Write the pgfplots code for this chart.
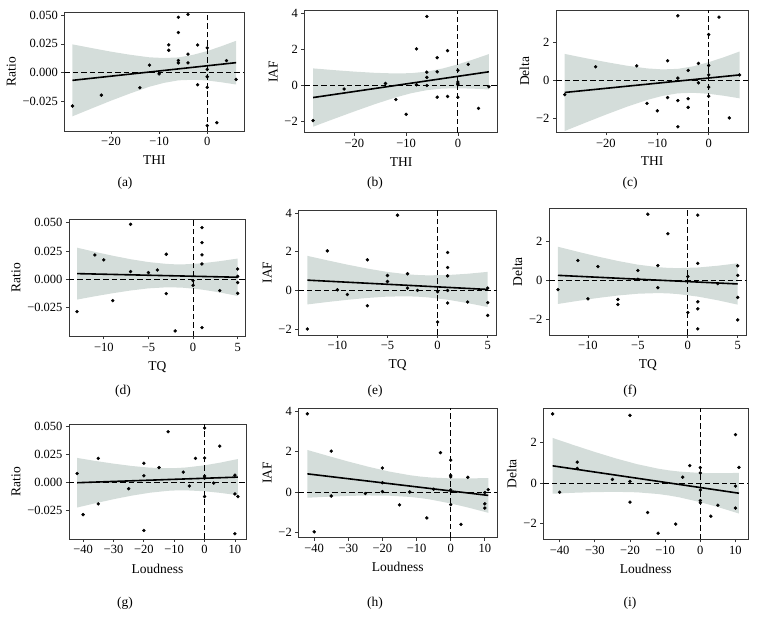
\documentclass[border=0pt]{standalone}
\usepackage{fontspec}
\setmainfont{Liberation Serif}
\usepackage{pgfplots}
\pgfplotsset{compat=1.18}
\definecolor{bandcol}{RGB}{212,221,218}
\definecolor{framecol}{RGB}{55,55,55}
\pgfplotsset{
  panel/.style={
    scale only axis, anchor=south west,
    axis line style={framecol, line width=0.9pt},
    tick align=outside, major tick length=3pt,
    tick style={framecol, line width=0.7pt},
    xtick pos=lower, ytick pos=left,
    scaled y ticks=false, scaled x ticks=false,
    ticklabel style={font=\fontsize{12.5}{13}\selectfont},
    label style={font=\fontsize{13.5}{14}\selectfont},
    xlabel style={yshift=-3pt},
    clip=true,
  },
  band/.style={fill=bandcol, draw=none},
  fit/.style={black, line width=1.6pt},
  zero/.style={black, line width=0.8pt, dash pattern=on 5.5pt off 3pt},
  pts/.style={only marks, mark=*, mark size=1.5pt, black},
  ratioy/.style={ytick={-0.025,0,0.025,0.05}, yticklabels={−0.025,0.000,0.025,0.050}, ylabel={Ratio}},
  iafy/.style={ytick={-2,0,2,4}, yticklabels={−2,0,2,4}, ylabel={IAF}},
  deltay/.style={ytick={-2,0,2}, yticklabels={−2,0,2}, ylabel={Delta}},
  thix/.style={xmin=-29.7, xmax=7.7, xtick={-20,-10,0}, xticklabels={−20,−10,0}, xlabel={THI}},
  tqx/.style={xmin=-13.9, xmax=5.9, xtick={-10,-5,0,5}, xticklabels={−10,−5,0,5}, xlabel={TQ}},
  loudx/.style={xmin=-44.65, xmax=13.65, xtick={-40,-30,-20,-10,0,10}, xticklabels={−40,−30,−20,−10,0,10}, xlabel={Loudness}},
}
\begin{document}
\begin{tikzpicture}
\path[use as bounding box] (0pt,0pt) rectangle (758pt,623pt);

% (a) Ratio vs THI
\begin{axis}[panel, thix, ratioy, at={(64.3pt,492pt)}, width=180pt, height=118.3pt, ymin=-0.0503, ymax=0.052]
\addplot[band] coordinates {(-28,0.0246)(-24,0.0214)(-20,0.0183)(-16,0.0156)(-12,0.0134)(-9,0.0128)(-6,0.0133)(-3,0.0155)(0,0.0188)(3,0.0231)(6,0.0277)
 (6,-0.0101)(3,-0.0082)(0,-0.0066)(-3,-0.0060)(-6,-0.0065)(-9,-0.0087)(-12,-0.0120)(-16,-0.0178)(-20,-0.0241)(-24,-0.0308)(-28,-0.0376)};
\addplot[zero] coordinates {(-29.7,0)(7.7,0)};
\addplot[zero] coordinates {(0,-0.0503)(0,0.052)};
\addplot[fit] coordinates {(-28,-0.0065)(6,0.0088)};
\addplot[pts] coordinates {(-28,-0.0287)(-22,-0.0193)(-14,-0.0129)(-12,0.0066)(-10,-0.0009)(-8,0.0241)(-8,0.0195)(-6,0.0480)(-6,0.0348)(-6,0.0106)(-6,0.0086)(-4,0.0506)(-4,0.0161)(-4,0.0086)(-2,0.0241)(-2,-0.0103)(0,0.0216)(0,0.0030)(0,-0.0034)(0,-0.0126)(0,-0.0457)(2,-0.0431)(4,0.0106)(6,-0.0057)};
\end{axis}

% (b) IAF vs THI
\begin{axis}[panel, thix, iafy, at={(304.3pt,490.3pt)}, width=193.4pt, height=122pt, ymin=-2.62, ymax=4.15]
\addplot[band] coordinates {(-28,0.948)(-24,0.854)(-20,0.769)(-16,0.701)(-12,0.666)(-9,0.685)(-6,0.769)(-3,0.938)(0,1.171)(3,1.445)(6,1.742)
 (6,-0.222)(3,-0.177)(0,-0.155)(-3,-0.174)(-6,-0.259)(-9,-0.427)(-12,-0.660)(-16,-1.031)(-20,-1.437)(-24,-1.858)(-28,-2.288)};
\addplot[zero] coordinates {(-29.7,0)(7.7,0)};
\addplot[zero] coordinates {(0,-2.62)(0,4.15)};
\addplot[fit] coordinates {(-28,-0.67)(6,0.76)};
\addplot[pts] coordinates {(-28,-1.95)(-22,-0.20)(-14,0.11)(-12,-0.78)(-10,-1.60)(-8,2.03)(-8,0.04)(-6,3.83)(-6,0.74)(-6,0.45)(-6,0.0)(-4,1.54)(-4,0.76)(-4,-0.65)(-2,1.93)(-2,-0.61)(0,0.84)(0,0.19)(0,0.04)(0,0.10)(0,-0.65)(2,1.17)(4,-1.27)(6,-0.07)};
\end{axis}

% (c) Delta vs THI
\begin{axis}[panel, thix, deltay, at={(556pt,490.7pt)}, width=192.3pt, height=122.3pt, ymin=-2.76, ymax=3.72]
\addplot[band] coordinates {(-28,1.392)(-24,1.171)(-20,0.962)(-16,0.772)(-12,0.625)(-9,0.571)(-6,0.601)(-3,0.735)(0,0.953)(3,1.222)(6,1.520)
 (6,-0.960)(3,-0.826)(0,-0.721)(-3,-0.667)(-6,-0.697)(-9,-0.831)(-12,-1.049)(-16,-1.416)(-20,-1.824)(-24,-2.253)(-28,-2.692)};
\addplot[zero] coordinates {(-29.7,0)(7.7,0)};
\addplot[zero] coordinates {(0,-2.76)(0,3.72)};
\addplot[fit] coordinates {(-28,-0.65)(6,0.28)};
\addplot[pts] coordinates {(-28,-0.76)(-22,0.71)(-14,0.76)(-12,-1.23)(-10,-1.62)(-8,1.03)(-8,-0.92)(-6,3.41)(-6,0.11)(-6,-1.08)(-6,-2.47)(-4,0.52)(-4,-0.98)(-4,-1.44)(-2,0.89)(-2,-0.14)(0,2.42)(0,0.78)(0,0.28)(0,-0.37)(0,-0.85)(2,3.34)(4,-2.0)(6,0.28)};
\end{axis}

% (d) Ratio vs TQ
\begin{axis}[panel, tqx, ratioy, at={(69pt,286.7pt)}, width=176.7pt, height=117.3pt, ymin=-0.0503, ymax=0.0532]
\addplot[band] coordinates {(-13,0.0279)(-11,0.0242)(-9,0.0208)(-7,0.0177)(-5,0.0152)(-3,0.0136)(-2,0.0132)(-1,0.0132)(1,0.0141)(3,0.0160)(5,0.0183)
 (5,-0.0147)(3,-0.0116)(1,-0.0091)(-1,-0.0075)(-2,-0.0072)(-3,-0.0071)(-5,-0.0080)(-7,-0.0099)(-9,-0.0123)(-11,-0.0150)(-13,-0.0179)};
\addplot[zero] coordinates {(-13.9,0)(5.9,0)};
\addplot[zero] coordinates {(0,-0.0503)(0,0.0532)};
\addplot[fit] coordinates {(-13,0.0050)(5,0.0018)};
\addplot[pts] coordinates {(-13,-0.0285)(-11,0.0215)(-10,0.0171)(-9,-0.0188)(-7,0.0485)(-7,0.0068)(-5,0.0059)(-4,0.0082)(-3,0.0221)(-3,-0.0126)(-2,-0.0456)(0,-0.0012)(0,-0.0053)(1,0.0456)(1,0.0324)(1,0.0215)(1,0.0135)(1,-0.0426)(3,-0.0100)(5,0.0091)(5,0.0026)(5,-0.0029)(5,-0.0124)};
\end{axis}

% (e) IAF vs TQ
\begin{axis}[panel, tqx, iafy, at={(298.3pt,288pt)}, width=198.4pt, height=125pt, ymin=-2.3, ymax=4.15]
\addplot[band] coordinates {(-13,1.784)(-11,1.552)(-9,1.330)(-7,1.127)(-5,0.953)(-3,0.831)(-2,0.796)(-1,0.778)(1,0.793)(3,0.860)(5,0.957)
 (5,-0.857)(3,-0.654)(1,-0.479)(-1,-0.358)(-2,-0.322)(-3,-0.305)(-5,-0.319)(-7,-0.387)(-9,-0.484)(-11,-0.598)(-13,-0.724)};
\addplot[zero] coordinates {(-13.9,0)(5.9,0)};
\addplot[zero] coordinates {(0,-2.3)(0,4.15)};
\addplot[fit] coordinates {(-13,0.53)(5,0.05)};
\addplot[pts] coordinates {(-13,-1.99)(-11,2.04)(-10,0.03)(-9,-0.21)(-7,1.58)(-7,-0.79)(-5,0.77)(-5,0.46)(-4,3.88)(-3,0.86)(-3,0.12)(-2,0.0)(0,-0.07)(0,-1.63)(1,1.96)(1,1.18)(1,0.75)(1,0.0)(1,-0.65)(3,-0.60)(5,0.12)(5,-0.63)(5,-1.29)};
\end{axis}

% (f) Delta vs TQ
\begin{axis}[panel, tqx, deltay, at={(549pt,288pt)}, width=197.7pt, height=126.7pt, ymin=-2.78, ymax=3.70]
\addplot[band] coordinates {(-13,1.733)(-11,1.475)(-9,1.230)(-7,1.006)(-5,0.817)(-3,0.689)(-2,0.653)(-1,0.640)(1,0.671)(3,0.762)(5,0.888)
 (5,-1.228)(3,-1.004)(1,-0.815)(-1,-0.686)(-2,-0.651)(-3,-0.637)(-5,-0.669)(-7,-0.760)(-9,-0.886)(-11,-1.033)(-13,-1.193)};
\addplot[zero] coordinates {(-13.9,0)(5.9,0)};
\addplot[zero] coordinates {(0,-2.78)(0,3.70)};
\addplot[fit] coordinates {(-13,0.27)(5,-0.17)};
\addplot[pts] coordinates {(-13,-0.46)(-11,1.03)(-10,-0.93)(-9,0.72)(-7,-0.96)(-7,-1.22)(-5,0.52)(-5,0.07)(-4,3.40)(-3,0.77)(-3,-0.36)(-2,2.40)(0,0.21)(0,-1.63)(1,3.35)(1,0.88)(1,-1.08)(1,-1.44)(1,-2.47)(3,-0.15)(5,0.76)(5,0.27)(5,-0.86)(5,-2.01)};
\end{axis}

% (g) Ratio vs Loudness
\begin{axis}[panel, loudx, ratioy, at={(69pt,84pt)}, width=177pt, height=114.7pt, ymin=-0.0501, ymax=0.052]
\addplot[band] coordinates {(-42,0.0221)(-36,0.0194)(-30,0.0170)(-24,0.0149)(-18,0.0134)(-12,0.0129)(-9,0.0131)(-6,0.0136)(0,0.0155)(5,0.0178)(11,0.0211)
 (11,-0.0111)(5,-0.0090)(0,-0.0076)(-6,-0.0068)(-9,-0.0068)(-12,-0.0072)(-18,-0.0089)(-24,-0.0115)(-30,-0.0147)(-36,-0.0183)(-42,-0.0221)};
\addplot[zero] coordinates {(-44.65,0)(13.65,0)};
\addplot[zero] coordinates {(0,-0.0501)(0,0.052)};
\addplot[fit] coordinates {(-42,0.0)(11,0.0050)};
\addplot[pts] coordinates {(-42,0.0082)(-40,-0.0284)(-35,0.0217)(-35,-0.0188)(-25,-0.0053)(-20,0.0173)(-20,0.0062)(-20,-0.0425)(-15,0.0135)(-12,0.0454)(-7,0.0094)(-5,-0.0029)(-3,0.0217)(0,0.0487)(0,0.0220)(0,0.0059)(0,0.0041)(0,-0.0123)(3,-0.0003)(5,0.0325)(10,0.0067)(10,-0.0100)(10,-0.0454)(11,-0.0123)};
\end{axis}

% (h) IAF vs Loudness
\begin{axis}[panel, loudx, iafy, at={(298.3pt,85.3pt)}, width=199pt, height=129.7pt, ymin=-2.27, ymax=4.17]
\addplot[band] coordinates {(-42,2.086)(-36,1.794)(-30,1.511)(-24,1.248)(-18,1.014)(-12,0.833)(-9,0.768)(-6,0.720)(0,0.674)(5,0.670)(11,0.694)
 (11,-1.034)(5,-0.768)(0,-0.570)(-6,-0.374)(-9,-0.300)(-12,-0.245)(-18,-0.184)(-24,-0.174)(-30,-0.195)(-36,-0.236)(-42,-0.286)};
\addplot[zero] coordinates {(-44.65,0)(13.65,0)};
\addplot[zero] coordinates {(0,-2.27)(0,4.17)};
\addplot[fit] coordinates {(-42,0.90)(11,-0.17)};
\addplot[pts] coordinates {(-42,3.88)(-40,-1.98)(-35,2.03)(-35,-0.20)(-25,-0.08)(-20,1.19)(-20,0.46)(-20,0.02)(-15,-0.64)(-12,0.0)(-7,-1.29)(-5,0.14)(-3,1.95)(0,1.58)(0,0.83)(0,0.75)(0,0.10)(0,-0.63)(3,-1.61)(5,0.73)(10,-0.03)(10,-0.59)(10,-0.80)(11,0.12)};
\end{axis}

% (i) Delta vs Loudness
\begin{axis}[panel, loudx, deltay, at={(543.3pt,83.7pt)}, width=205pt, height=131.3pt, ymin=-2.77, ymax=3.70]
\addplot[band] coordinates {(-42,2.224)(-36,1.872)(-30,1.533)(-24,1.215)(-18,0.933)(-12,0.711)(-9,0.629)(-6,0.568)(0,0.500)(5,0.486)(11,0.501)
 (11,-1.501)(5,-1.180)(0,-0.940)(-6,-0.701)(-9,-0.610)(-12,-0.539)(-18,-0.455)(-24,-0.432)(-30,-0.445)(-36,-0.478)(-42,-0.524)};
\addplot[zero] coordinates {(-44.65,0)(13.65,0)};
\addplot[zero] coordinates {(0,-2.77)(0,3.70)};
\addplot[fit] coordinates {(-42,0.85)(11,-0.50)};
\addplot[pts] coordinates {(-42,3.41)(-40,-0.45)(-35,1.03)(-35,0.72)(-25,0.18)(-20,3.34)(-20,0.08)(-20,-0.94)(-15,-1.45)(-12,-2.47)(-7,-2.02)(-5,0.29)(-3,0.86)(0,0.76)(0,0.50)(0,-0.34)(0,-0.86)(0,-0.97)(3,-1.63)(5,-1.09)(10,2.39)(10,-0.15)(10,-1.23)(11,0.77)};
\end{axis}

\begin{scope}[every node/.style={font=\fontsize{13.5}{14}\selectfont}]
\node at (125pt,440pt) {(a)};
\node at (375pt,440pt) {(b)};
\node at (630pt,440pt) {(c)};
\node at (123pt,232pt) {(d)};
\node at (375pt,232pt) {(e)};
\node at (630pt,232pt) {(f)};
\node at (125pt,20pt) {(g)};
\node at (375pt,20pt) {(h)};
\node at (630pt,20pt) {(i)};
\end{scope}
\end{tikzpicture}
\end{document}
